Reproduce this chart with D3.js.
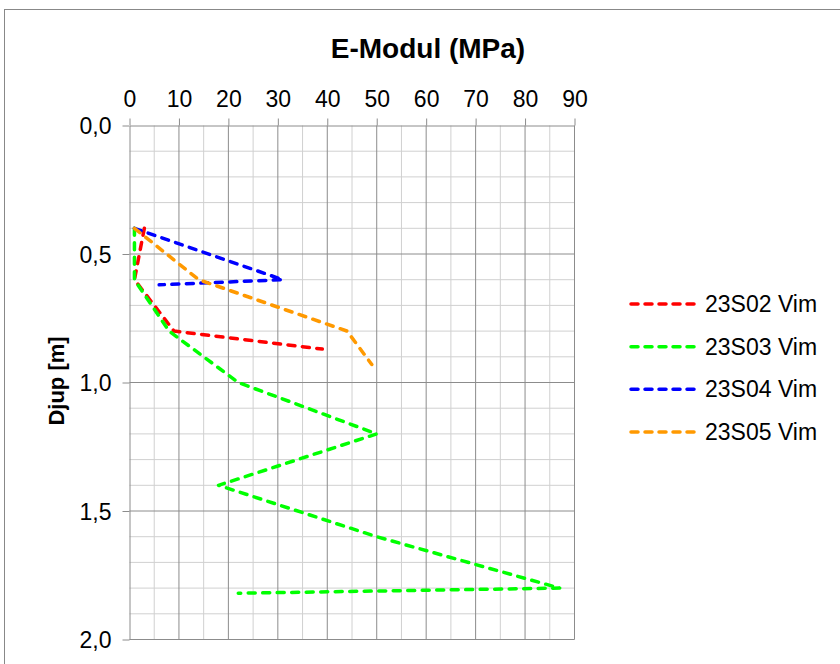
<!DOCTYPE html>
<html>
<head>
<meta charset="utf-8">
<script src="https://cdn.jsdelivr.net/npm/d3@7"></script>
<style>
  body { margin: 0; background: #fff; }
  svg { display: block; font-family: "Liberation Sans", Arial, sans-serif; }
</style>
</head>
<body>
<svg id="chart" width="840" height="664"></svg>
<script>
// E-Modul vs depth, one series per sounding
const seriesNames = ["23S02 Vim", "23S03 Vim", "23S04 Vim", "23S05 Vim"];
const seriesColors = ["#ff0000", "#00ff00", "#0000ff", "#ff9900"];

const depth_23S02 = [0.4, 0.6, 0.8, 0.87];
const emod_23S02  = [3, 1, 9, 39];

const depth_23S03 = [0.4, 0.6, 0.8, 1.0, 1.2, 1.4, 1.6, 1.8, 1.82];
const emod_23S03  = [1, 1, 8, 22, 50, 18, 50, 87, 22];

const depth_23S04 = [0.4, 0.6, 0.62];
const emod_23S04  = [1, 31, 6];

const depth_23S05 = [0.4, 0.6, 0.8, 0.93];
const emod_23S05  = [1, 14, 44, 49];

const xTicks = [0, 10, 20, 30, 40, 50, 60, 70, 80, 90];
const yTicks = [0, 0.5, 1.0, 1.5, 2.0];

const series = [
  {name: seriesNames[0], color: seriesColors[0], depth: depth_23S02, e: emod_23S02},
  {name: seriesNames[1], color: seriesColors[1], depth: depth_23S03, e: emod_23S03},
  {name: seriesNames[2], color: seriesColors[2], depth: depth_23S04, e: emod_23S04},
  {name: seriesNames[3], color: seriesColors[3], depth: depth_23S05, e: emod_23S05}
];

const svg = d3.select("#chart");

// outer chart frame (runs off the right/bottom edge like the source)
svg.append("rect")
  .attr("x", 4.5).attr("y", 9.5)
  .attr("width", 850).attr("height", 670)
  .attr("fill", "none")
  .attr("stroke", "#888888");

const x = d3.scaleLinear().domain([0, 90]).range([129.5, 574.5]);
const y = d3.scaleLinear().domain([0, 2]).range([125.5, 639.5]);

const g = svg.append("g");

// minor grid
g.append("g").selectAll("line")
  .data(d3.range(5, 90, 10))
  .join("line")
  .attr("x1", d => x(d)).attr("x2", d => x(d))
  .attr("y1", y(0)).attr("y2", y(2))
  .attr("stroke", "#d0d0d0");

g.append("g").selectAll("line")
  .data(d3.range(1, 20).filter(i => i % 5 != 0).map(i => i / 10))
  .join("line")
  .attr("x1", x(0)).attr("x2", x(90))
  .attr("y1", d => y(d)).attr("y2", d => y(d))
  .attr("stroke", "#d0d0d0");

// major grid
g.append("g").selectAll("line")
  .data(xTicks.slice(1))
  .join("line")
  .attr("x1", d => x(d)).attr("x2", d => x(d))
  .attr("y1", y(0)).attr("y2", y(2))
  .attr("stroke", "#8c8c8c");

g.append("g").selectAll("line")
  .data(yTicks.slice(1))
  .join("line")
  .attr("x1", x(0)).attr("x2", x(90))
  .attr("y1", d => y(d)).attr("y2", d => y(d))
  .attr("stroke", "#8c8c8c");

// axes
const xAxis = g.append("g")
  .attr("transform", "translate(0," + y(0) + ")")
  .call(d3.axisTop(x).tickValues(xTicks).tickSize(7).tickSizeOuter(0).tickPadding(12).tickFormat(d3.format("d")));

const yAxis = g.append("g")
  .attr("transform", "translate(" + x(0) + ",0)")
  .call(d3.axisLeft(y).tickValues(yTicks).tickSize(7).tickSizeOuter(0).tickPadding(11)
    .tickFormat(d => d3.format(".1f")(d).replace(".", ",")));

[xAxis, yAxis].forEach(a => {
  a.select(".domain").attr("stroke", "#8c8c8c");
  a.selectAll(".tick line").attr("stroke", "#8c8c8c");
  a.selectAll(".tick text")
    .attr("fill", "#000")
    .style("font-size", "23px")
    .style("font-family", "'Liberation Sans', Arial, sans-serif");
});
yAxis.selectAll(".tick text").attr("dy", "0.35em");

// lines
const line = d3.line()
  .x(d => x(d[0]))
  .y(d => y(d[1]));

series.forEach(s => {
  g.append("path")
    .datum(s.e.map((v, i) => [v, s.depth[i]]))
    .attr("fill", "none")
    .attr("stroke", s.color)
    .attr("stroke-width", 3.5)
    .attr("stroke-dasharray", "7,7.5")
    .attr("stroke-linecap", "round")
    .attr("stroke-linejoin", "round")
    .attr("d", line);
});

// title
svg.append("text")
  .attr("x", 428).attr("y", 58)
  .attr("text-anchor", "middle")
  .style("font-size", "28px")
  .style("font-weight", "bold")
  .text("E-Modul (MPa)");

// y axis title
svg.append("text")
  .attr("transform", "translate(64,381) rotate(-90)")
  .attr("text-anchor", "middle")
  .style("font-size", "22px")
  .style("font-weight", "bold")
  .text("Djup [m]");

// legend
const legendY = d3.scalePoint().domain(seriesNames).range([304, 432]);
const legend = svg.append("g").selectAll("g")
  .data(series)
  .join("g")
  .attr("transform", d => "translate(0," + legendY(d.name) + ")");

legend.append("line")
  .attr("x1", 631).attr("x2", 699)
  .attr("stroke", d => d.color)
  .attr("stroke-width", 3.5)
  .attr("stroke-dasharray", "7,7")
  .attr("stroke-linecap", "round");

legend.append("text")
  .attr("x", 705).attr("dy", "0.35em")
  .style("font-size", "23px")
  .text(d => d.name);
</script>
</body>
</html>
